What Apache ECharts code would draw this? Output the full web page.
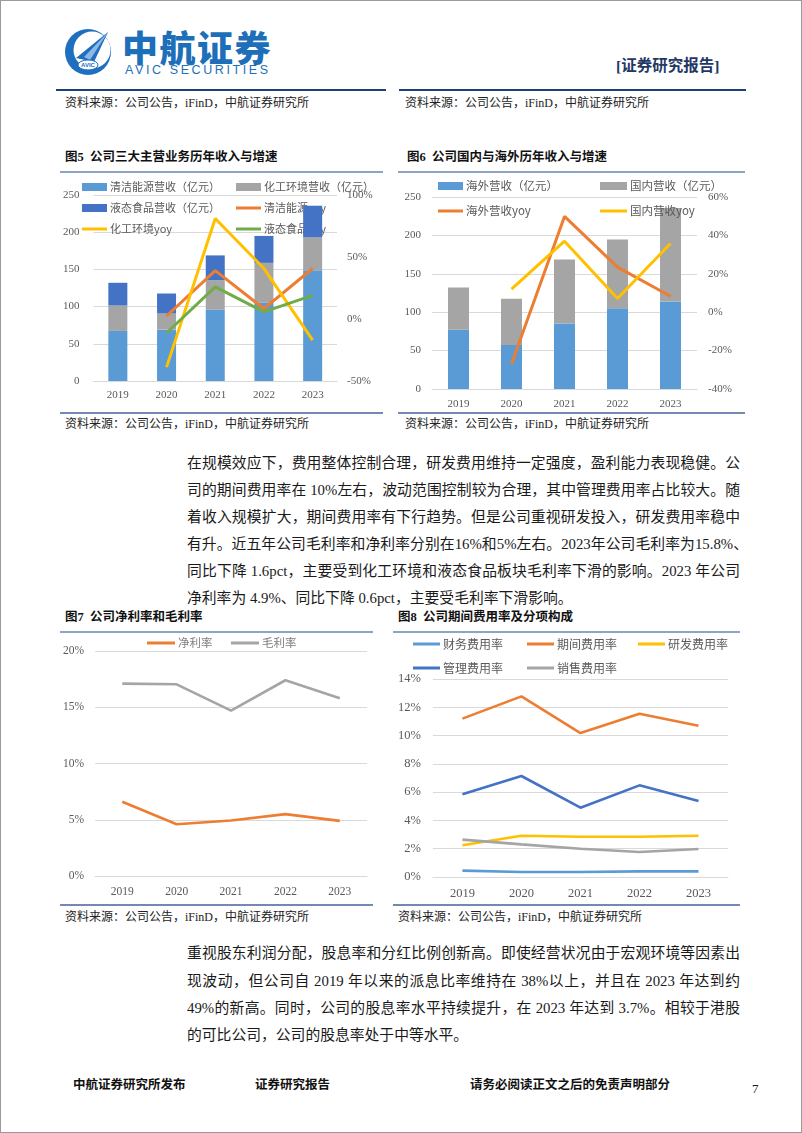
<!DOCTYPE html>
<html>
<head>
<meta charset="utf-8">
<script src="https://cdn.jsdelivr.net/npm/echarts@6/dist/echarts.min.js"></script>
<style>
  html,body{margin:0;padding:0;background:#fff;}
  #page{position:relative;width:802px;height:1133px;background:#fff;overflow:hidden;box-shadow:inset 0 0 0 1px #9a9a9a;
        font-family:"Liberation Serif","Noto Sans CJK SC",serif;color:#1a1a1a;}
  .abs{position:absolute;white-space:nowrap;}
  .src{font-size:12px;line-height:14px;color:#222;}
  .ftitle{font-size:12.5px;line-height:14px;font-weight:bold;color:#111;}
  .hl{position:absolute;}
  .pl{position:absolute;left:187px;width:553px;font-size:14.8px;line-height:18px;text-align:justify;text-align-last:justify;white-space:nowrap;color:#1a1a1a;}
  .pl.last{text-align-last:left;}
  .foot{font-size:12.5px;font-weight:bold;line-height:14px;color:#111;}
  .chart{position:absolute;}
</style>
</head>
<body>
<div id="page">
  <!-- header logo -->
  <svg class="abs" style="left:63px;top:27px" width="50" height="50" viewBox="0 0 50 50">
    <circle cx="25" cy="25" r="23" fill="#1E6FBF"/>
    <circle cx="29" cy="23" r="18.5" fill="#fff"/>
    <polygon points="13,31 45,5 31,35" fill="#1E6FBF"/>
    <polygon points="21,30 45,5 27,33" fill="#8DB8E3"/>
    <ellipse cx="25" cy="38" rx="10" ry="5" fill="#fff" stroke="#1E6FBF" stroke-width="1"/>
    <text x="25" y="40" font-size="6" text-anchor="middle" fill="#1E6FBF" font-family="Liberation Sans" font-weight="bold">AVIC</text>
  </svg>
  <div class="abs" style="left:122px;top:25px;font-family:'Noto Sans CJK SC';font-weight:900;font-size:36px;line-height:42px;letter-spacing:1.5px;color:#1C6FB8;">中航证券</div>
  <div class="abs" style="left:125px;top:63px;font-family:'Liberation Sans';font-size:12.5px;line-height:14px;letter-spacing:2.6px;color:#1C6FB8;">AVIC SECURITIES</div>
  <div class="abs" style="left:616px;top:57px;font-size:15.5px;line-height:18px;font-weight:bold;color:#1F3864;">[证券研究报告]</div>
  <div class="hl" style="left:56px;top:89px;width:330px;height:2px;background:#1F3F7A;"></div>
  <div class="hl" style="left:399px;top:89px;width:347px;height:2px;background:#1F3F7A;"></div>

  <div class="abs src" style="left:65px;top:96px;">资料来源：公司公告，iFinD，中航证券研究所</div>
  <div class="abs src" style="left:405px;top:96px;">资料来源：公司公告，iFinD，中航证券研究所</div>

  <!-- figure 5 / 6 titles and rules -->
  <div class="abs ftitle" style="left:65px;top:150px;">图5&nbsp;&nbsp;公司三大主营业务历年收入与增速</div>
  <div class="abs ftitle" style="left:407px;top:150px;">图6&nbsp;&nbsp;公司国内与海外历年收入与增速</div>
  <div class="hl" style="left:60px;top:171px;width:323px;height:1.5px;background:#8FA3C4;"></div>
  <div class="hl" style="left:398px;top:171px;width:347px;height:1.5px;background:#8FA3C4;"></div>
  <div class="hl" style="left:60px;top:412px;width:323px;height:2px;background:#7389B3;"></div>
  <div class="hl" style="left:398px;top:412px;width:347px;height:2px;background:#7389B3;"></div>
  <div id="c5" class="chart" style="left:60px;top:175px;width:330px;height:235px;"></div>
  <div id="c6" class="chart" style="left:400px;top:175px;width:345px;height:235px;"></div>
  <div class="abs src" style="left:65px;top:417px;">资料来源：公司公告，iFinD，中航证券研究所</div>
  <div class="abs src" style="left:405px;top:417px;">资料来源：公司公告，iFinD，中航证券研究所</div>

  <!-- paragraph 1 -->
  <div class="pl" style="top:454px;">在规模效应下，费用整体控制合理，研发费用维持一定强度，盈利能力表现稳健。公</div>
  <div class="pl" style="top:481px;">司的期间费用率在 10%左右，波动范围控制较为合理，其中管理费用率占比较大。随</div>
  <div class="pl" style="top:508px;">着收入规模扩大，期间费用率有下行趋势。但是公司重视研发投入，研发费用率稳中</div>
  <div class="pl" style="top:535px;width:561px;">有升。近五年公司毛利率和净利率分别在16%和5%左右。2023年公司毛利率为15.8%、</div>
  <div class="pl" style="top:562px;">同比下降 1.6pct，主要受到化工环境和液态食品板块毛利率下滑的影响。2023 年公司</div>
  <div class="pl last" style="top:589px;">净利率为 4.9%、同比下降 0.6pct，主要受毛利率下滑影响。</div>

  <!-- figure 7 / 8 -->
  <div class="abs ftitle" style="left:65px;top:610px;">图7&nbsp;&nbsp;公司净利率和毛利率</div>
  <div class="abs ftitle" style="left:398px;top:610px;">图8&nbsp;&nbsp;公司期间费用率及分项构成</div>
  <div class="hl" style="left:60px;top:631px;width:313px;height:1.5px;background:#8FA3C4;"></div>
  <div class="hl" style="left:393px;top:631px;width:347px;height:1.5px;background:#8FA3C4;"></div>
  <div class="hl" style="left:60px;top:904px;width:313px;height:2px;background:#7389B3;"></div>
  <div class="hl" style="left:393px;top:904px;width:347px;height:2px;background:#7389B3;"></div>
  <div id="c7" class="chart" style="left:60px;top:635px;width:330px;height:268px;"></div>
  <div id="c8" class="chart" style="left:395px;top:635px;width:345px;height:268px;"></div>
  <div class="abs src" style="left:65px;top:910px;">资料来源：公司公告，iFinD，中航证券研究所</div>
  <div class="abs src" style="left:398px;top:910px;">资料来源：公司公告，iFinD，中航证券研究所</div>

  <!-- paragraph 2 -->
  <div class="pl" style="top:944px;">重视股东利润分配，股息率和分红比例创新高。即使经营状况由于宏观环境等因素出</div>
  <div class="pl" style="top:972px;">现波动，但公司自 2019 年以来的派息比率维持在 38%以上，并且在 2023 年达到约</div>
  <div class="pl" style="top:999px;">49%的新高。同时，公司的股息率水平持续提升，在 2023 年达到 3.7%。相较于港股</div>
  <div class="pl last" style="top:1026px;">的可比公司，公司的股息率处于中等水平。</div>

  <!-- footer -->
  <div class="abs foot" style="left:73px;top:1078px;">中航证券研究所发布</div>
  <div class="abs foot" style="left:255px;top:1078px;">证券研究报告</div>
  <div class="abs foot" style="left:470px;top:1078px;">请务必阅读正文之后的免责声明部分</div>
  <div class="abs" style="left:752px;top:1082px;font-size:13px;line-height:14px;">7</div>
</div>

<script>
// ---------- data ----------
const years = ['2019', '2020', '2021', '2022', '2023'];

// 图5 (亿元 / %)
const cleanRev = [67.3, 69.0, 96.0, 105.0, 149.0];
const chemRev  = [34.1, 21.7, 39.5, 53.8, 44.0];
const foodRev  = [30.6, 26.9, 33.3, 36.2, 42.6];
const cleanYoy = [null, 2.4, 39.0, 8.3, 40.7];
const chemYoy  = [null, -38.8, 81.0, 40.7, -17.0];
const foodYoy  = [null, -11.3, 25.9, 5.7, 19.0];

// 图6 (亿元 / %)
const overseasRev = [77.0, 57.4, 85.2, 105.2, 114.0];
const domesticRev = [55.2, 60.0, 83.5, 89.6, 121.7];
const overseasYoy = [null, -27.0, 49.9, 23.5, 8.3];
const domesticYoy = [null, 12.0, 37.0, 7.1, 35.8];

// 图7 (%)
const netMargin   = [6.6, 4.6, 4.94, 5.5, 4.9];
const grossMargin = [17.1, 17.04, 14.7, 17.4, 15.8];

// 图8 (%)
const finRate    = [0.45, 0.35, 0.35, 0.40, 0.40];
const periodRate = [11.2, 12.77, 10.18, 11.55, 10.7];
const rdRate     = [2.24, 2.92, 2.85, 2.85, 2.92];
const adminRate  = [5.85, 7.14, 4.90, 6.48, 5.37];
const salesRate  = [2.64, 2.31, 2.00, 1.77, 1.98];

// ---------- styles ----------
const C = {lblue:'#5B9BD5', orange:'#ED7D31', gray:'#A5A5A5', yellow:'#FFC000', dblue:'#4472C4', green:'#70AD47'};
const FONT = '"Liberation Serif","Noto Sans CJK SC",serif';
const LEGFONT = '"Noto Sans CJK SC",sans-serif';
const axisTxt = (size) => ({color:'#595959', fontSize:size, fontFamily:FONT});

function leg(name, left, top, isBar, opts) {
  opts = opts || {};
  return {
    data:[name], left:left, top:top, padding:0, z: opts.z != null ? opts.z : 4,
    icon:'rect', itemWidth: opts.w || 25, itemHeight: isBar ? 8 : 3, itemGap:0,
    textStyle:{color:opts.color || '#595959', fontSize:opts.fs || 11, fontFamily:LEGFONT, lineHeight:14, padding:[0,0,0,-2]},
    selectedMode:false
  };
}
function catAxis(size, margin) {
  return {type:'category', data:years, axisTick:{show:false},
    axisLine:{show:true, lineStyle:{color:'#D9D9D9', width:1}},
    axisLabel:Object.assign(axisTxt(size), {margin:margin})};
}
function lineSeries(name, data, color, width, yIdx) {
  return {name:name, type:'line', data:data, yAxisIndex:yIdx || 0, symbol:'none', smooth:false,
    lineStyle:{color:color, width:width}, itemStyle:{color:color}, z:3, connectNulls:false};
}
function barSeries(name, data, color, width) {
  return {name:name, type:'bar', stack:'rev', data:data, barWidth:width, itemStyle:{color:color}, z:2};
}

// ---------- 图5 ----------
const c5 = echarts.init(document.getElementById('c5'), null, {renderer:'canvas'});
c5.setOption({
  animation:false,
  grid:{left:32, right:53, top:20, bottom:29},
  xAxis:catAxis(11, 9),
  yAxis:[
    {type:'value', min:0, max:250, interval:50, axisLine:{show:false}, axisTick:{show:false},
     axisLabel:Object.assign(axisTxt(11), {margin:14}), splitLine:{lineStyle:{color:'#D9D9D9'}}},
    {type:'value', min:-50, max:100, interval:50, axisLine:{show:false}, axisTick:{show:false},
     axisLabel:Object.assign(axisTxt(11), {margin:10, formatter:'{value}%'}), splitLine:{show:false}}
  ],
  legend:[
    leg('清洁能源营收（亿元）', 22, 5, true, {z:1}),
    leg('化工环境营收（亿元）', 176, 5, true, {z:1}),
    leg('液态食品营收（亿元）', 22, 26, true, {z:1}),
    leg('清洁能源yoy', 176, 26, false, {z:1}),
    leg('化工环境yoy', 22, 47, false, {z:1}),
    leg('液态食品yoy', 176, 47, false, {z:1})
  ],
  series:[
    barSeries('清洁能源营收（亿元）', cleanRev, C.lblue, 19),
    barSeries('化工环境营收（亿元）', chemRev, C.gray, 19),
    barSeries('液态食品营收（亿元）', foodRev, C.dblue, 19),
    lineSeries('清洁能源yoy', cleanYoy, C.orange, 3, 1),
    lineSeries('化工环境yoy', chemYoy, C.yellow, 3, 1),
    lineSeries('液态食品yoy', foodYoy, C.green, 3, 1)
  ]
});

// ---------- 图6 ----------
const c6 = echarts.init(document.getElementById('c6'), null, {renderer:'canvas'});
c6.setOption({
  animation:false,
  grid:{left:32, right:48, top:22, bottom:21},
  xAxis:catAxis(11, 10),
  yAxis:[
    {type:'value', min:0, max:250, interval:50, axisLine:{show:false}, axisTick:{show:false},
     axisLabel:Object.assign(axisTxt(11), {margin:11}), splitLine:{lineStyle:{color:'#D9D9D9'}}},
    {type:'value', min:-40, max:60, interval:20, axisLine:{show:false}, axisTick:{show:false},
     axisLabel:Object.assign(axisTxt(11), {margin:11, formatter:'{value}%'}), splitLine:{show:false}}
  ],
  legend:[
    leg('海外营收（亿元）', 38, 4, true, {fs:11.5}),
    leg('国内营收（亿元）', 200, 4, true, {fs:11.5, w:27}),
    leg('海外营收yoy', 38, 29, false, {fs:11.5}),
    leg('国内营收yoy', 200, 29, false, {fs:11.5, w:27})
  ],
  series:[
    barSeries('海外营收（亿元）', overseasRev, C.lblue, 21),
    barSeries('国内营收（亿元）', domesticRev, C.gray, 21),
    lineSeries('海外营收yoy', overseasYoy, C.orange, 3, 1),
    lineSeries('国内营收yoy', domesticYoy, C.yellow, 3, 1)
  ]
});

// ---------- 图7 ----------
const c7 = echarts.init(document.getElementById('c7'), null, {renderer:'canvas'});
c7.setOption({
  animation:false,
  grid:{left:35, right:23, top:16, bottom:27},
  xAxis:catAxis(11.5, 10),
  yAxis:{type:'value', min:0, max:20, interval:5, axisLine:{show:false}, axisTick:{show:false},
    axisLabel:Object.assign(axisTxt(11.5), {margin:11, formatter:'{value}%'}), splitLine:{lineStyle:{color:'#D9D9D9'}}},
  legend:[
    leg('净利率', 87, 1, false, {w:28, fs:11.5, color:'#7f7f7f'}),
    leg('毛利率', 171, 1, false, {w:28, fs:11.5, color:'#7f7f7f'})
  ],
  series:[
    lineSeries('净利率', netMargin, C.orange, 2.6),
    lineSeries('毛利率', grossMargin, C.gray, 2.6)
  ]
});

// ---------- 图8 ----------
const c8 = echarts.init(document.getElementById('c8'), null, {renderer:'canvas'});
c8.setOption({
  animation:false,
  grid:{left:35, right:12, top:44, bottom:26},
  xAxis:catAxis(12.5, 10),
  yAxis:{type:'value', min:0, max:14, interval:2, axisLine:{show:false}, axisTick:{show:false},
    axisLabel:Object.assign(axisTxt(12.5), {margin:12, formatter:'{value}%'}), splitLine:{lineStyle:{color:'#D9D9D9'}}},
  legend:[
    leg('财务费用率', 18, 2, false, {w:27, fs:12}),
    leg('期间费用率', 132, 2, false, {w:27, fs:12}),
    leg('研发费用率', 243, 2, false, {w:27, fs:12}),
    leg('管理费用率', 18, 26, false, {w:27, fs:12}),
    leg('销售费用率', 132, 26, false, {w:27, fs:12})
  ],
  series:[
    lineSeries('财务费用率', finRate, C.lblue, 2.6),
    lineSeries('期间费用率', periodRate, C.orange, 2.6),
    lineSeries('研发费用率', rdRate, C.yellow, 2.6),
    lineSeries('管理费用率', adminRate, C.dblue, 2.6),
    lineSeries('销售费用率', salesRate, C.gray, 2.6)
  ]
});
</script>
</body>
</html>
